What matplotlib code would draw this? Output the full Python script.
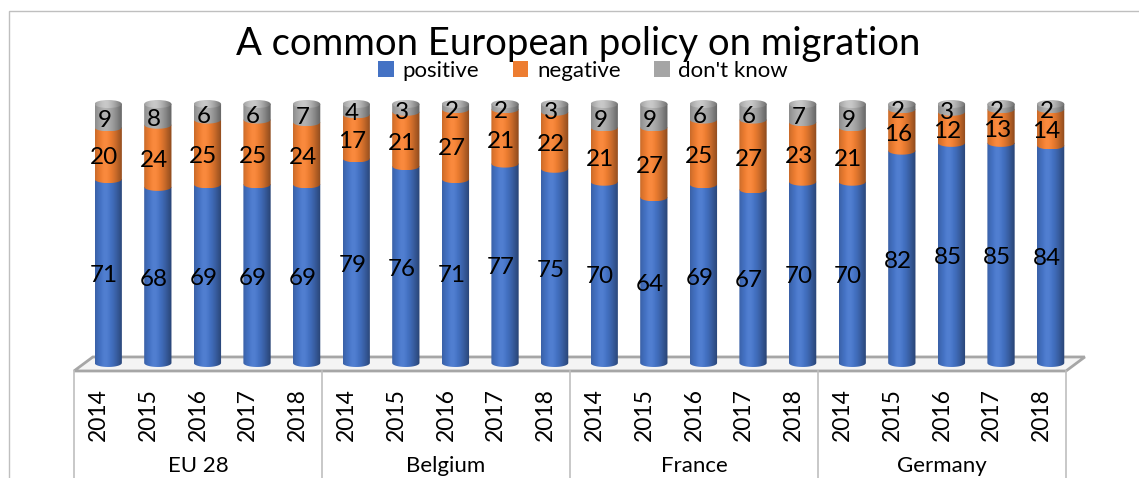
import numpy as np
import matplotlib.pyplot as plt
from matplotlib.patches import Polygon, Ellipse, Rectangle
from matplotlib.lines import Line2D
from matplotlib.colors import to_rgb
from matplotlib.transforms import blended_transform_factory

plt.rcParams['font.family'] = ['Lato', 'DejaVu Sans']

countries = ["EU 28", "Belgium", "France", "Germany"]
years = ["2014", "2015", "2016", "2017", "2018"]

positive = [71, 68, 69, 69, 69, 79, 76, 71, 77, 75, 70, 64, 69, 67, 70, 70, 82, 85, 85, 84]
negative = [20, 24, 25, 25, 24, 17, 21, 27, 21, 22, 21, 27, 25, 27, 23, 21, 16, 12, 13, 14]
dont_know = [9, 8, 6, 6, 7, 4, 3, 2, 2, 3, 9, 9, 6, 6, 7, 9, 2, 3, 2, 2]

series_names = ["positive", "negative", "don't know"]
series_colors = ["#4472C4", "#ED7D31", "#A5A5A5"]

# cylinder look: bar width, ellipse height, depth shift (x units / y units)
bw = 0.55
eh = 3.1
depth = 0.19

t = np.linspace(-1, 1, 64)
shade = 0.72 + 0.33 * np.cos((t + 0.25) * np.pi / 2)


def cyl_rgb(color, lift=0.0):
    base = np.array(to_rgb(color))
    base = base + (1 - base) * lift
    rgb = base[None, :] * shade[:, None]
    over = np.clip(shade - 1, 0, None)[:, None]
    rgb = np.clip(rgb + over * (1 - base[None, :]), 0, 1)
    return rgb[None, :, :]


def front_arc(xc, y, n=30):
    a = np.linspace(np.pi, 2 * np.pi, n)
    return np.column_stack([xc + bw / 2 * np.cos(a), y + eh / 2 * np.sin(a)])


fig = plt.figure(figsize=(11.39, 4.78), dpi=100)
ax = fig.add_axes([74 / 1139, 0.1973, 992 / 1139, 0.6176])

n = len(positive)
for i in range(n):
    xc = i + depth
    bottom = 0
    vals = [positive[i], negative[i], dont_know[i]]
    for k, (v, c) in enumerate(zip(vals, series_colors)):
        top = bottom + v
        pts = np.vstack([front_arc(xc, bottom), [[xc + bw / 2, top], [xc - bw / 2, top]]])
        clip = Polygon(pts, closed=True, transform=ax.transData)
        im = ax.imshow(cyl_rgb(c), extent=[xc - bw / 2, xc + bw / 2, bottom - eh / 2, top],
                       aspect='auto', interpolation='bilinear', zorder=2 + k)
        im.set_clip_path(clip)
        # labels sit a little below the segment middle (front face of the cylinder)
        ax.text(xc - 0.08, bottom + v / 2 - 1.8, str(v), ha='center', va='center',
                fontsize=17.5, color='black', zorder=10)
        bottom = top
    cap = Ellipse((xc, bottom), bw, eh, transform=ax.transData)
    im = ax.imshow(cyl_rgb(series_colors[2], lift=0.25),
                   extent=[xc - bw / 2, xc + bw / 2, bottom - eh / 2, bottom + eh / 2],
                   aspect='auto', interpolation='bilinear', zorder=6)
    im.set_clip_path(cap)

# floor
floor = Polygon([(-0.5, -3.09), (19.5, -3.09), (19.88, 2.32), (-0.12, 2.32)], closed=True,
                facecolor='#F4F4F4', edgecolor='#A6A6A6', lw=2, zorder=1, clip_on=False)
ax.add_patch(floor)

# category axis separators
for xb in [-0.5, 4.5, 9.5, 14.5, 19.5]:
    ax.add_line(Line2D([xb, xb], [-3.09, -60], color='#BFBFBF', lw=1.2, clip_on=False))

ax.set_xlim(-0.5, 19.5)
ax.set_ylim(-8, 106)
ax.set_xticks(range(n))
ax.set_xticklabels(years * len(countries), rotation=90, fontsize=16.5)
ax.tick_params(axis='x', length=0, pad=3)
ax.set_yticks([])
for s in ax.spines.values():
    s.set_visible(False)

trans = blended_transform_factory(ax.transData, fig.transFigure)
for g, name in enumerate(countries):
    ax.text(g * 5 + 2, 0.012, name, transform=trans, ha='center', va='baseline', fontsize=16)

fig.text(0.5075, 0.885, "A common European policy on migration", ha='center', va='baseline',
         fontsize=27.5)

handles = [Rectangle((0, 0), 1, 1, facecolor=c) for c in series_colors]
fig.legend(handles, series_names, loc='center', bbox_to_anchor=(0.512, 0.852), ncol=3,
           frameon=False, fontsize=16, handlelength=0.7, handleheight=0.7,
           handletextpad=0.4, columnspacing=1.5, borderpad=0)

fig.add_artist(Rectangle((9 / 1139, -0.5), 2, (478 - 11) / 478 + 0.5, transform=fig.transFigure,
                         fill=False, edgecolor='#BFBFBF', lw=1))

fig.savefig('out.png', dpi=100)
